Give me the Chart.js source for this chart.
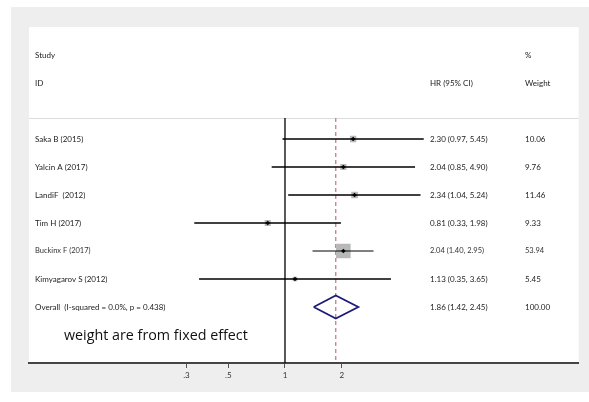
<!DOCTYPE html>
<html>
<head>
<meta charset="utf-8">
<title>Forest plot</title>
<script src="https://cdn.jsdelivr.net/npm/chart.js@4.4.0/dist/chart.umd.min.js"></script>
<style>
  html, body { margin: 0; padding: 0; background: #fff; }
  canvas { display: block; }
</style>
</head>
<body>
<canvas id="forestChart" width="589" height="402"></canvas>
<script>
// study rows
const studies = ['Saka B (2015)', 'Yalcin A (2017)', 'LandiF  (2012)', 'Tim H (2017)', 'Buckinx F (2017)', 'Kimyagarov S (2012)'];
const hr = [2.30, 2.04, 2.34, 0.81, 2.04, 1.13];
const lower = [0.97, 0.85, 1.04, 0.33, 1.40, 0.35];
const upper = [5.45, 4.90, 5.24, 1.98, 2.95, 3.65];
const weights = [10.06, 9.76, 11.46, 9.33, 53.94, 5.45];

// pooled estimate
const overallLabel = 'Overall  (I-squared = 0.0%, p = 0.438)';
const overallHr = 1.86;
const overallCi = [1.42, 2.45];
const overallWeight = 100.00;

// x axis
const xTicks = [0.3, 0.5, 1, 2];
const xTickLabels = ['.3', '.5', '1', '2'];

const fmt = v => v.toFixed(2);
const rows = studies.map((s, i) => i + 1);
const overallRow = studies.length + 1;
const maxWeight = Math.max(...weights);
const headerLine = 0.25; // row position of the header rule

const FONT = 'Lato, "Open Sans", sans-serif';

// gray frame + white panel behind the plot
const background = {
    id: 'background',
    beforeDraw(chart) {
        const { ctx, chartArea } = chart;
        ctx.save();
        ctx.fillStyle = '#ffffff';
        ctx.fillRect(0, 0, chart.width, chart.height);
        ctx.fillStyle = '#eeeeee';
        ctx.fillRect(11, 7, chart.width - 11, 385);
        ctx.fillStyle = '#ffffff';
        ctx.fillRect(chartArea.left, chartArea.top, chartArea.right - chartArea.left, chartArea.bottom - chartArea.top);
        // header separator
        const y = Math.round(chart.scales.y.getPixelForValue(headerLine)) + 0.5;
        ctx.strokeStyle = '#dcdcdc';
        ctx.lineWidth = 1;
        ctx.beginPath();
        ctx.moveTo(chartArea.left, y);
        ctx.lineTo(chartArea.right, y);
        ctx.stroke();
        ctx.restore();
    }
};

// study names, estimates and weights
const tableText = {
    id: 'tableText',
    afterDatasetsDraw(chart) {
        const { ctx } = chart;
        const y = chart.scales.y;
        const colName = 35, colHr = 430, colWeight = 525;
        ctx.save();
        ctx.textBaseline = 'middle';
        ctx.textAlign = 'left';
        ctx.fillStyle = '#222';
        ctx.font = '8px ' + FONT;

        ctx.fillText('Study', colName, y.getPixelForValue(-2));
        ctx.fillText('ID', colName, y.getPixelForValue(-1));
        ctx.fillText('HR (95% CI)', colHr, y.getPixelForValue(-1));
        ctx.fillText('%', colWeight, y.getPixelForValue(-2));
        ctx.fillText('Weight', colWeight, y.getPixelForValue(-1));

        studies.forEach((s, i) => {
            const py = y.getPixelForValue(rows[i]);
            ctx.font = (i === 4 ? '7.5px ' : '8px ') + FONT;
            ctx.fillStyle = i === 4 ? '#333' : '#222';
            ctx.fillText(s, colName, py);
            ctx.fillText(fmt(hr[i]) + ' (' + fmt(lower[i]) + ', ' + fmt(upper[i]) + ')', colHr, py);
            ctx.fillText(fmt(weights[i]), colWeight, py);
        });

        const oy = y.getPixelForValue(overallRow);
        ctx.font = '8px ' + FONT;
        ctx.fillStyle = '#222';
        ctx.fillText(overallLabel, colName, oy);
        ctx.fillText(fmt(overallHr) + ' (' + fmt(overallCi[0]) + ', ' + fmt(overallCi[1]) + ')', colHr, oy);
        ctx.fillText(fmt(overallWeight), colWeight, oy);

        ctx.font = '14.3px "Open Sans", sans-serif';
        ctx.fillStyle = '#111';
        ctx.fillText('weight are from fixed effect', 64, y.getPixelForValue(overallRow + 1.05));
        ctx.restore();
    }
};

// point estimate markers (drawn on top)
const dots = {
    type: 'scatter',
    data: hr.map((v, i) => ({ x: v, y: rows[i] })),
    pointStyle: 'rectRot',
    pointRadius: 2.3,
    backgroundColor: '#000',
    borderWidth: 0
};

// confidence intervals
const ciLines = studies.map((s, i) => ({
    type: 'line',
    data: [{ x: lower[i], y: rows[i] }, { x: upper[i], y: rows[i] }],
    borderColor: '#000',
    borderWidth: i === 4 ? 1 : 1.6,
    pointRadius: 0
}));

// weight boxes, area proportional to weight
const boxes = {
    type: 'scatter',
    data: hr.map((v, i) => ({ x: v, y: rows[i] })),
    pointStyle: 'rect',
    pointRadius: weights.map(w => 10.3 * Math.sqrt(w / maxWeight)),
    backgroundColor: '#b8b8b8',
    borderWidth: 0
};

// pooled diamond
const diamond = {
    type: 'line',
    data: [
        { x: overallCi[0], y: overallRow },
        { x: overallHr, y: overallRow - 0.41 },
        { x: overallCi[1], y: overallRow },
        { x: overallHr, y: overallRow + 0.41 },
        { x: overallCi[0], y: overallRow }
    ],
    borderColor: '#1c1c78',
    borderWidth: 1.8,
    pointRadius: 0,
    tension: 0
};

// pooled estimate reference line
const pooledLine = {
    type: 'line',
    data: [{ x: overallHr, y: headerLine }, { x: overallHr, y: 9 }],
    borderColor: '#c0707c',
    borderWidth: 1.2,
    borderDash: [4, 3],
    pointRadius: 0
};

// line of no effect
const nullLine = {
    type: 'line',
    data: [{ x: 1, y: headerLine }, { x: 1, y: 9 }],
    borderColor: '#000',
    borderWidth: 1.3,
    pointRadius: 0
};

const ctx = document.getElementById('forestChart').getContext('2d');
const forestChart = new Chart(ctx, {
    type: 'scatter',
    data: {
        datasets: [dots, ...ciLines, boxes, diamond, pooledLine, nullLine]
    },
    options: {
        responsive: false,
        animation: false,
        layout: {
            padding: { left: 29, right: 8, top: 27, bottom: 0 }
        },
        scales: {
            x: {
                type: 'logarithmic',
                min: 0.0438,
                max: 36.2,
                afterBuildTicks: scale => {
                    scale.ticks = xTicks.map(v => ({ value: v }));
                },
                afterFit: scale => {
                    scale.height = 39; // axis sits at y = 363
                },
                ticks: {
                    autoSkip: false,
                    maxRotation: 0,
                    padding: 3,
                    color: '#333',
                    font: { family: FONT, size: 8 },
                    callback: (v, i) => xTickLabels[i]
                },
                grid: {
                    drawOnChartArea: false,
                    tickLength: 5,
                    color: '#555',
                    lineWidth: 1
                },
                border: { color: '#444', width: 2 }
            },
            y: {
                type: 'linear',
                reverse: true,
                min: -3,
                max: 9,
                display: false
            }
        },
        plugins: {
            legend: { display: false },
            tooltip: { enabled: false }
        }
    },
    plugins: [background, tableText]
});
</script>
</body>
</html>
